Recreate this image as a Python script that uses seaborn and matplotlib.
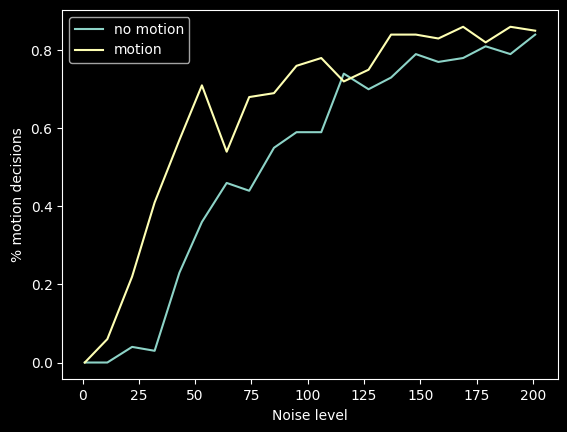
import matplotlib
matplotlib.use("Agg")
import matplotlib.pyplot as plt
import seaborn as sns
import pandas as pd

noise_level = [1, 11, 22, 32, 43, 53, 64, 74, 85, 95, 106, 116, 127, 137, 148, 158, 169, 179, 190, 201]
no_motion = [0.0, 0.0, 0.04, 0.03, 0.23, 0.36, 0.46, 0.44, 0.55, 0.59,
             0.59, 0.74, 0.70, 0.73, 0.79, 0.77, 0.78, 0.81, 0.79, 0.84]
motion = [0.0, 0.06, 0.22, 0.41, 0.57, 0.71, 0.54, 0.68, 0.69, 0.76,
          0.78, 0.72, 0.75, 0.84, 0.84, 0.83, 0.86, 0.82, 0.86, 0.85]
series_labels = ["no motion", "motion"]

plt.style.use("dark_background")
df = pd.DataFrame({
    "Noise level": noise_level * 2,
    "value": no_motion + motion,
    "condition": [series_labels[0]] * len(noise_level) + [series_labels[1]] * len(noise_level),
})

fig = plt.figure(figsize=(5.67, 4.32), dpi=100)
ax = fig.add_axes([62.3 / 567, 1 - 379.3 / 432, (557.7 - 62.3) / 567, (379.3 - 10) / 432])
for lab, color in zip(series_labels, ["#8dd3c7", "#feffb3"]):
    sub = df[df["condition"] == lab]
    sns.lineplot(data=sub, x="Noise level", y="value", ax=ax, color=color, label=lab)

ax.set_xlabel("Noise level")
ax.set_ylabel("% motion decisions")
ax.set_xticks([0, 25, 50, 75, 100, 125, 150, 175, 200])
ax.set_yticks([0.0, 0.2, 0.4, 0.6, 0.8])
ax.legend(loc="upper left")
fig.savefig("out.png", dpi=100)
